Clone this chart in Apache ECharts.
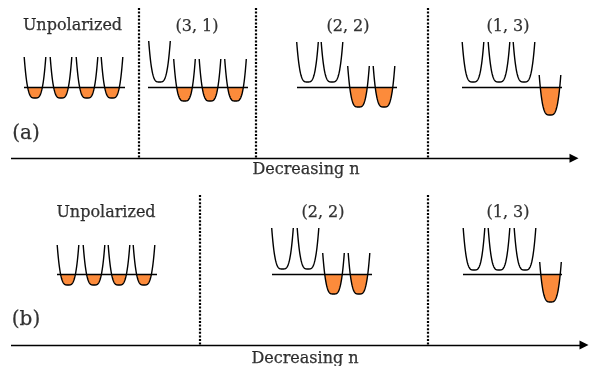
<!DOCTYPE html>
<html>
<head>
<meta charset="utf-8">
<script src="https://cdn.jsdelivr.net/npm/echarts@6/dist/echarts.min.js"></script>
<style>html,body{margin:0;padding:0;background:#fff}#c{width:589px;height:366px}</style>
</head>
<body>
<div id="c"></div>
<script>
// ---- data (schematic units: x to the right, y downward) ----
const panelNames = ['(a)', '(b)'];
const panelNamePos = [[26, 134], [26, 320]];
const axisY = [158.3, 345];
const axisStartX = [11, 11];
const axisEndX = [574, 584];
const axisTitle = 'Decreasing n';
const axisTitlePos = [[306, 170], [305, 358.5]];

const stateLabelsA = ['Unpolarized', '(3, 1)', '(2, 2)', '(1, 3)'];
const stateLabelPosA = [[72.5, 25.5], [197, 27], [348, 27], [508, 27]];
const stateLabelsB = ['Unpolarized', '(2, 2)', '(1, 3)'];
const stateLabelPosB = [[106, 212.5], [323, 213], [508, 213]];

const dividersA = [138.5, 256, 428];
const dividerSpanA = [8, 158.3];
const dividersB = [200, 427.7];
const dividerSpanB = [195, 345];

// baselines: [x start, x end, y]
const baselinesA = [[24, 125, 87.3], [148, 248, 87.3], [297, 397, 87.3], [462, 562, 87.3]];
const baselinesB = [[57, 157, 274], [272, 372, 274], [463, 562, 274]];

// wells: [centre x, top y, bottom y, baseline y]
const wellsA = [
  [35, 57, 98, 87.3], [61, 57, 98, 87.3], [87, 57, 98, 87.3], [112, 57, 98, 87.3],
  [159.5, 41, 82, 87.3], [184.5, 59, 101, 87.3], [210, 59, 101, 87.3], [235.5, 59, 101, 87.3],
  [307.5, 42, 82, 87.3], [332, 42, 82, 87.3], [358.5, 66, 107, 87.3], [384, 66, 107, 87.3],
  [473, 42, 82, 87.3], [499, 42, 82, 87.3], [524, 42, 82, 87.3], [550, 75, 115, 87.3]
];
const wellsB = [
  [68, 245, 285, 274], [94, 245, 285, 274], [119, 245, 285, 274], [144, 245, 285, 274],
  [282.5, 228, 269, 274], [308, 228, 269, 274], [333.5, 253, 294, 274], [359, 253, 294, 274],
  [474, 228, 270, 274], [499, 228, 270, 274], [525, 228, 270, 274], [550.5, 262, 302, 274]
];

// ---- styling ----
const ORANGE = '#FC8B3B';
const HW = 10.8;   // well half width
const P = 3.5;     // well shape exponent
const FONT = 'DejaVu Serif';

function renderWell(params, api) {
  const cx = api.value(0), top = api.value(1), bot = api.value(2), base = api.value(3);
  const N = 60;
  const pts = [];
  for (let i = 0; i <= N; i++) {
    const t = -1 + 2 * i / N;
    pts.push(api.coord([cx + HW * t, bot - (bot - top) * Math.pow(Math.abs(t), P)]));
  }
  const children = [];
  if (bot > base) {
    const tb = Math.pow((bot - base) / (bot - top), 1 / P);
    const fill = [];
    for (let i = 0; i <= N; i++) {
      const t = -tb + 2 * tb * i / N;
      fill.push(api.coord([cx + HW * t, bot - (bot - top) * Math.pow(Math.abs(t), P)]));
    }
    children.push({ type: 'polygon', shape: { points: fill }, style: { fill: ORANGE } });
  }
  children.push({ type: 'polyline', shape: { points: pts }, style: { stroke: '#000', lineWidth: 1.4, fill: null } });
  return { type: 'group', children };
}

function textSeries(labels, pos, size) {
  return {
    type: 'scatter', symbolSize: 0, silent: true, z: 5,
    data: labels.map((l, i) => ({ value: [pos[i][0], pos[i][1]], name: l })),
    label: { show: true, position: 'inside', formatter: p => p.name, color: '#000',
      fontFamily: FONT, fontSize: size, textBorderColor: '#000', textBorderWidth: 0.25 }
  };
}

const baseLineData = baselinesA.concat(baselinesB).map(b => ({ coords: [[b[0], b[2]], [b[1], b[2]]] }));
const dividerData = dividersA.map(x => ({ coords: [[x, dividerSpanA[0]], [x, dividerSpanA[1]]] }))
  .concat(dividersB.map(x => ({ coords: [[x, dividerSpanB[0]], [x, dividerSpanB[1]]] })));
const axisData = axisY.map((y, i) => ({ coords: [[axisStartX[i], y], [axisEndX[i], y]] }));

const chart = echarts.init(document.getElementById('c'), null, { renderer: 'canvas' });
chart.setOption({
  animation: false,
  backgroundColor: '#fff',
  grid: { left: 0, right: 0, top: 0, bottom: 0 },
  xAxis: { type: 'value', min: 0, max: 589, show: false },
  yAxis: { type: 'value', min: 0, max: 366, inverse: true, show: false },
  series: [
    { type: 'custom', renderItem: renderWell, data: wellsA.concat(wellsB), z: 2, silent: true },
    { type: 'lines', coordinateSystem: 'cartesian2d', data: baseLineData, z: 3, silent: true,
      lineStyle: { color: '#000', width: 1.4, opacity: 1 } },
    { type: 'lines', coordinateSystem: 'cartesian2d', data: dividerData, z: 3, silent: true,
      lineStyle: { color: '#000', width: 2.2, type: [2, 1.6], opacity: 1 } },
    { type: 'lines', coordinateSystem: 'cartesian2d', data: axisData, z: 3, silent: true,
      symbol: ['none', 'triangle'], symbolSize: [0, 9],
      lineStyle: { color: '#000', width: 1.4, opacity: 1 }, itemStyle: { color: '#000' } },
    textSeries(stateLabelsA, stateLabelPosA, 16),
    textSeries(stateLabelsB, stateLabelPosB, 16),
    textSeries(panelNames, panelNamePos, 20),
    textSeries([axisTitle, axisTitle], axisTitlePos, 16)
  ]
});
</script>
</body>
</html>
